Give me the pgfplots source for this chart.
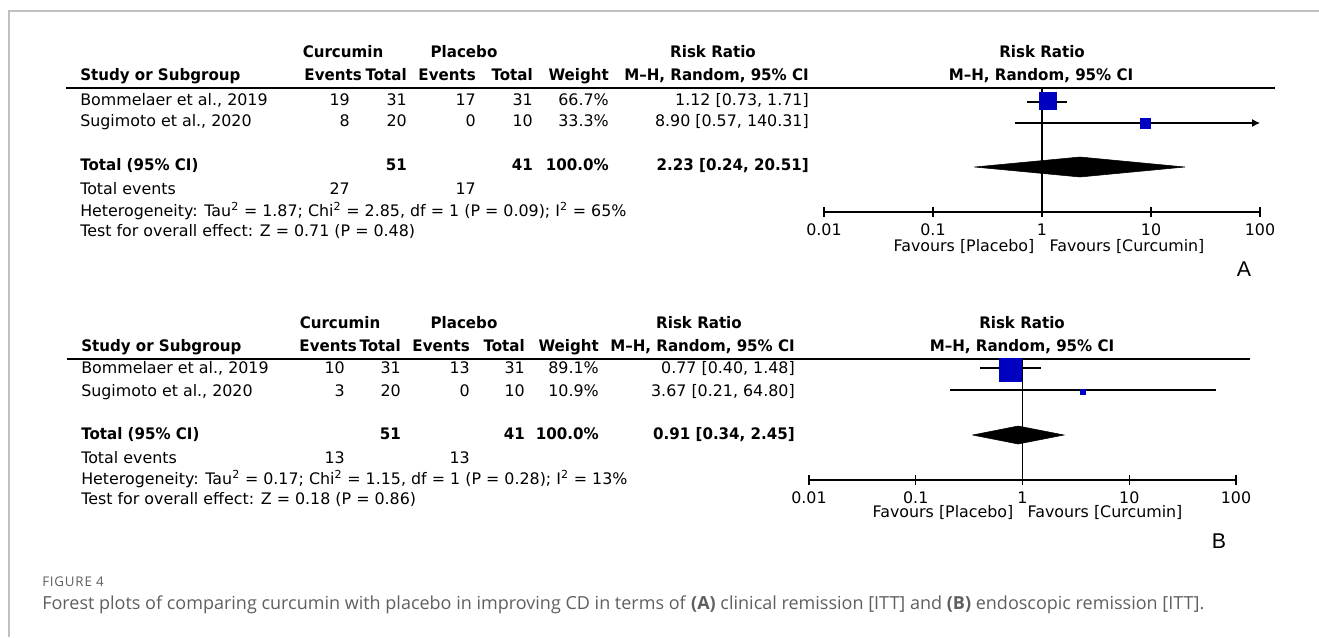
\documentclass[border=0pt]{standalone}
\usepackage{pgfplots}
\pgfplotsset{compat=1.18}
\usetikzlibrary{arrows.meta}
\usepackage{fontspec}
\setmainfont{DejaVu Sans}[BoldFeatures={FakeStretch=0.95}]
\newfontfamily\capfont{Open Sans}
\newfontfamily\lblfont{Liberation Sans}
\definecolor{rmblue}{RGB}{0,0,192}
\definecolor{framegray}{RGB}{192,192,192}
\definecolor{capgray}{RGB}{95,95,95}
\newcommand{\tf}{\fontsize{11.9}{13}\selectfont}
\tikzset{
  L/.style={anchor=mid west, font=\tf, inner sep=0pt},
  R/.style={anchor=mid east, font=\tf, inner sep=0pt},
  C/.style={anchor=mid, font=\tf, inner sep=0pt},
  LB/.style={L, font=\tf\bfseries},
  RB/.style={R, font=\tf\bfseries},
  CB/.style={C, font=\tf\bfseries},
}
\begin{document}
\begin{tikzpicture}
\begin{scope}[x=0.75pt,y=-0.75pt]
\path[use as bounding box] (0,0) rectangle (1319,637);
\draw[framegray, line width=1.5pt] (9,637) -- (9,11) -- (1319,11);

% ---------------- Panel A table ----------------
\node[CB] at (343,54) {Curcumin};
\node[CB] at (464,54) {Placebo};
\node[CB] at (713,54) {Risk Ratio};
\node[CB] at (1042,54) {Risk Ratio};
\node[LB] at (80,77) {Study or Subgroup};
\node[RB] at (362,77) {Events};
\node[RB] at (407,77) {Total};
\node[RB] at (476,77) {Events};
\node[RB] at (533,77) {Total};
\node[RB] at (609,77) {Weight};
\node[RB] at (809,77) {M\textendash H, Random, 95\% CI};
\node[CB] at (1041,77) {M\textendash H, Random, 95\% CI};
\draw[line width=1.1pt] (66,88) -- (1275,88);
\node[L] at (80,102) {Bommelaer et al., 2019};
\node[R] at (350,102) {19};
\node[R] at (407,102) {31};
\node[R] at (476,102) {17};
\node[R] at (533,102) {31};
\node[R] at (609,102) {66.7\%};
\node[R] at (809,102) {1.12 [0.73, 1.71]};
\node[L] at (80,123) {Sugimoto et al., 2020};
\node[R] at (350,123) {8};
\node[R] at (407,123) {20};
\node[R] at (476,123) {0};
\node[R] at (533,123) {10};
\node[R] at (609,123) {33.3\%};
\node[R] at (809,123) {8.90 [0.57, 140.31]};
\node[LB] at (80,167) {Total (95\% CI)};
\node[RB] at (407,167) {51};
\node[RB] at (533,167) {41};
\node[RB] at (609,167) {100.0\%};
\node[RB] at (809,167) {2.23 [0.24, 20.51]};
\node[L] at (80,191) {Total events};
\node[R] at (350,191) {27};
\node[R] at (476,191) {17};
\node[L] at (80,213) {Heterogeneity: Tau\textsuperscript{2} = 1.87; Chi\textsuperscript{2} = 2.85, df = 1 (P = 0.09); I\textsuperscript{2} = 65\%};
\node[L] at (80,233) {Test for overall effect: Z = 0.71 (P = 0.48)};
\node[C] at (964,248) {Favours [Placebo]};
\node[C] at (1127,248) {Favours [Curcumin]};
\node[anchor=mid, inner sep=0pt, font=\lblfont\fontsize{16}{18}\selectfont] at (1244,273) {A};

% ---------------- Panel B table ----------------
\node[CB] at (340,325) {Curcumin};
\node[CB] at (464,325) {Placebo};
\node[CB] at (699,325) {Risk Ratio};
\node[CB] at (1022,325) {Risk Ratio};
\node[LB] at (81,348) {Study or Subgroup};
\node[RB] at (357,348) {Events};
\node[RB] at (401,348) {Total};
\node[RB] at (470,348) {Events};
\node[RB] at (525,348) {Total};
\node[RB] at (599,348) {Weight};
\node[RB] at (795,348) {M\textendash H, Random, 95\% CI};
\node[CB] at (1022,348) {M\textendash H, Random, 95\% CI};
\draw[line width=1.1pt] (67,359) -- (1250,359);
\node[L] at (81,370) {Bommelaer et al., 2019};
\node[R] at (345,370) {10};
\node[R] at (401,370) {31};
\node[R] at (470,370) {13};
\node[R] at (525,370) {31};
\node[R] at (599,370) {89.1\%};
\node[R] at (795,370) {0.77 [0.40, 1.48]};
\node[L] at (81,393) {Sugimoto et al., 2020};
\node[R] at (345,393) {3};
\node[R] at (401,393) {20};
\node[R] at (470,393) {0};
\node[R] at (525,393) {10};
\node[R] at (599,393) {10.9\%};
\node[R] at (795,393) {3.67 [0.21, 64.80]};
\node[LB] at (81,436) {Total (95\% CI)};
\node[RB] at (401,436) {51};
\node[RB] at (525,436) {41};
\node[RB] at (599,436) {100.0\%};
\node[RB] at (795,436) {0.91 [0.34, 2.45]};
\node[L] at (81,460) {Total events};
\node[R] at (345,460) {13};
\node[R] at (470,460) {13};
\node[L] at (81,481) {Heterogeneity: Tau\textsuperscript{2} = 0.17; Chi\textsuperscript{2} = 1.15, df = 1 (P = 0.28); I\textsuperscript{2} = 13\%};
\node[L] at (81,501) {Test for overall effect: Z = 0.18 (P = 0.86)};
\node[C] at (943,514) {Favours [Placebo]};
\node[C] at (1105,514) {Favours [Curcumin]};
\node[anchor=mid, inner sep=0pt, font=\lblfont\fontsize{16}{18}\selectfont] at (1219,545) {B};

% ---------------- Caption ----------------
\node[anchor=mid west, inner sep=0pt, text=capgray, font=\capfont\fontsize{10}{12}\selectfont\addfontfeature{LetterSpace=6}] at (42,583) {FIGURE 4};
\node[anchor=mid west, inner sep=0pt, text=capgray, font=\capfont\fontsize{13.5}{15}\selectfont] at (42,606) {Forest plots of comparing curcumin with placebo in improving CD in terms of \textbf{(A)} clinical remission [ITT] and \textbf{(B)} endoscopic remission [ITT].};
\end{scope}

\begin{axis}[at={(618pt,-159pt)}, anchor=south west, scale only axis,
    width=327pt, height=93pt, ymin=-212, ymax=-88,
    xmode=log, xmin=0.01, xmax=100,
    axis x line*=bottom, axis y line=none, clip=false,
    xtick={0.01,0.1,1,10,100}, xticklabels={0.01,0.1,1,10,100},
    xminorticks=false, tick align=center, major tick length=7.5pt,
    xticklabel style={font=\tf, anchor=mid, yshift=-11pt, inner sep=0pt},
    x axis line style={-, line width=0.8pt},
    every tick/.style={black, line width=0.8pt}]
\addplot[black, line width=0.8pt] coordinates {(1,-88) (1,-212)};
\addplot[black, line width=0.8pt] coordinates {(0.73,-102) (1.71,-102)};
\addplot[black, line width=0.8pt, -{Latex[length=6pt,width=6pt]}] coordinates {(0.57,-123) (100,-123)};
\addplot[only marks, mark=square*, mark size=6.3pt, mark options={rmblue}] coordinates {(1.12,-101)};
\addplot[only marks, mark=square*, mark size=3.6pt, mark options={rmblue}] coordinates {(8.90,-123)};
\addplot[fill=black, draw=black] coordinates {(0.24,-167) (2.23,-157) (20.51,-167) (2.23,-177) (0.24,-167)};
\end{axis}

\begin{axis}[at={(606.75pt,-360pt)}, anchor=south west, scale only axis,
    width=320.25pt, height=91.5pt, ymin=-481, ymax=-359,
    xmode=log, xmin=0.01, xmax=100,
    axis x line*=bottom, axis y line=none, clip=false,
    xtick={0.01,0.1,1,10,100}, xticklabels={0.01,0.1,1,10,100},
    xminorticks=false, tick align=center, major tick length=7.5pt,
    xticklabel style={font=\tf, anchor=mid, yshift=-11pt, inner sep=0pt},
    x axis line style={-, line width=0.8pt},
    every tick/.style={black, line width=0.8pt}]
\addplot[black, line width=0.8pt] coordinates {(1,-359) (1,-481)};
\addplot[black, line width=0.8pt] coordinates {(0.40,-369) (1.48,-369)};
\addplot[black, line width=0.8pt] coordinates {(0.21,-391) (64.80,-391)};
\addplot[only marks, mark=square*, mark size=8.5pt, mark options={rmblue}] coordinates {(0.77,-370.5)};
\addplot[only marks, mark=square*, mark size=1.8pt, mark options={rmblue}] coordinates {(3.67,-393)};
\addplot[fill=black, draw=black] coordinates {(0.34,-436) (0.91,-427) (2.45,-436) (0.91,-445) (0.34,-436)};
\end{axis}
\end{tikzpicture}
\end{document}
